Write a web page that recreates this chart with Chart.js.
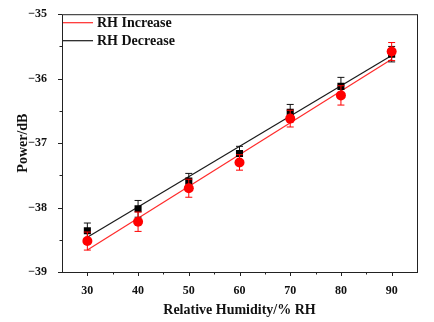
<!DOCTYPE html>
<html>
<head>
<meta charset="utf-8">
<script src="https://cdn.jsdelivr.net/npm/chart.js@4.4.1/dist/chart.umd.min.js"></script>
<style>
  html, body { margin: 0; padding: 0; background: #fff; }
  #wrap { width: 434px; height: 322px; }
</style>
</head>
<body>
<div id="wrap"><canvas id="rhChart"></canvas></div>
<script>
// humidity steps (% RH)
const humidity = [30, 40, 50, 60, 70, 80, 90];

// measured power (dB) and error bar half-widths
const powerIncrease = [-38.52, -38.22, -37.70, -37.30, -36.62, -36.26, -35.58];
const errIncrease   = [0.14, 0.15, 0.14, 0.12, 0.13, 0.15, 0.14];
const powerDecrease = [-38.36, -38.02, -37.59, -37.16, -36.52, -36.12, -35.62];
const errDecrease   = [0.12, 0.13, 0.12, 0.11, 0.12, 0.14, 0.12];

// linear fit endpoints
const fitX = [30, 90];
const fitIncrease = [-38.66, -35.70];
const fitDecrease = [-38.46, -35.64];

const serif = "'Liberation Serif', 'Times New Roman', serif";

function toPoints(xs, ys){
    return xs.map((x, i) => ({x: x, y: ys[i]}));
}

// error bars, drawn just before each point series
const errorBars = {
    id: "errorBars",
    beforeDatasetDraw(chart, args){
        const ds = chart.data.datasets[args.index];
        if(!ds.errors) return;
        const ctx = chart.ctx;
        const xs = chart.scales.x, ys = chart.scales.y;
        ctx.save();
        ctx.strokeStyle = ds.borderColor;
        ctx.lineWidth = 1;
        ds.data.forEach((p, i) => {
            const px = xs.getPixelForValue(p.x);
            const top = ys.getPixelForValue(p.y + ds.errors[i]);
            const bot = ys.getPixelForValue(p.y - ds.errors[i]);
            ctx.beginPath();
            ctx.moveTo(px, top); ctx.lineTo(px, bot);
            ctx.moveTo(px - 3.5, top); ctx.lineTo(px + 3.5, top);
            ctx.moveTo(px - 3.5, bot); ctx.lineTo(px + 3.5, bot);
            ctx.stroke();
        });
        ctx.restore();
    }
};

// frame, tick marks and the in-plot legend
const frame = {
    id: "frame",
    afterDraw(chart){
        const ctx = chart.ctx;
        const a = chart.chartArea;
        const xs = chart.scales.x, ys = chart.scales.y;
        ctx.save();
        ctx.strokeStyle = "#222";
        ctx.lineWidth = 1;
        ctx.strokeRect(a.left + 0.5, a.top + 0.5, a.right - a.left, a.bottom - a.top);

        ctx.beginPath();
        for(let v = 30; v <= 90; v += 5){
            const px = Math.round(xs.getPixelForValue(v)) + 0.5;
            const len = v % 10 === 0 ? 4 : 2.5;
            ctx.moveTo(px, a.bottom); ctx.lineTo(px, a.bottom + len);
        }
        for(let v = -39; v <= -35; v += 0.5){
            const py = Math.round(ys.getPixelForValue(v)) + 0.5;
            const len = Number.isInteger(v) ? 4 : 2.5;
            ctx.moveTo(a.left, py); ctx.lineTo(a.left - len, py);
        }
        ctx.stroke();

        // legend: line samples only
        const items = chart.data.datasets.filter(d => d.legendEntry);
        ctx.font = "bold 14px " + serif;
        ctx.textBaseline = "middle";
        ctx.fillStyle = "#111";
        items.forEach((d, i) => {
            const y = a.top + 8.5 + i * 18;
            ctx.strokeStyle = d.borderColor;
            ctx.lineWidth = 1.2;
            ctx.beginPath();
            ctx.moveTo(a.left + 1, y); ctx.lineTo(a.left + 31, y);
            ctx.stroke();
            ctx.fillText(d.label, a.left + 35, y + 1);
        });
        ctx.restore();
    }
};

new Chart("rhChart", {
    type: "scatter",
    data: {
        datasets: [
            {
                label: "RH Increase points",
                data: toPoints(humidity, powerIncrease),
                errors: errIncrease,
                backgroundColor: "#ff0000",
                borderColor: "#ff0000",
                pointStyle: "circle",
                pointRadius: 5,
                pointBorderWidth: 0
            },
            {
                label: "RH Decrease points",
                data: toPoints(humidity, powerDecrease),
                errors: errDecrease,
                backgroundColor: "#000",
                borderColor: "#111",
                pointStyle: "rect",
                pointRadius: 5,
                pointBorderWidth: 0
            },
            {
                label: "RH Increase",
                legendEntry: true,
                type: "line",
                data: toPoints(fitX, fitIncrease),
                borderColor: "#ff2a2a",
                borderWidth: 1.2,
                pointRadius: 0,
                fill: false
            },
            {
                label: "RH Decrease",
                legendEntry: true,
                type: "line",
                data: toPoints(fitX, fitDecrease),
                borderColor: "#1a1a1a",
                borderWidth: 1.2,
                pointRadius: 0,
                fill: false
            }
        ]
    },
    options: {
        responsive: true,
        maintainAspectRatio: false,
        animation: false,
        layout: {
            padding: {left: 0, top: 11, right: 17, bottom: 0}
        },
        scales: {
            x: {
                type: "linear",
                min: 25,
                max: 95,
                afterFit: s => { s.height = 50; },
                afterBuildTicks: s => {
                    s.ticks = humidity.map(v => ({value: v}));
                },
                grid: {display: false},
                border: {display: false},
                ticks: {
                    padding: 4,
                    color: "#111",
                    font: {family: serif, size: 12, weight: "bold"}
                },
                title: {
                    display: true,
                    text: "Relative Humidity/% RH",
                    color: "#111",
                    padding: {top: 0, bottom: 3},
                    font: {family: serif, size: 14, weight: "bold"}
                }
            },
            y: {
                min: -39,
                max: -35,
                afterFit: s => { s.width = 62; },
                grid: {display: false},
                border: {display: false},
                ticks: {
                    stepSize: 1,
                    padding: 7,
                    color: "#111",
                    font: {family: serif, size: 12, weight: "bold"},
                    callback: v => "\u2212" + Math.abs(v)
                },
                title: {
                    display: true,
                    text: "Power/dB",
                    color: "#111",
                    padding: {top: 15, bottom: 0},
                    font: {family: serif, size: 14, weight: "bold"}
                }
            }
        },
        plugins: {
            legend: {display: false},
            tooltip: {enabled: false}
        }
    },
    plugins: [errorBars, frame]
});
</script>
</body>
</html>
